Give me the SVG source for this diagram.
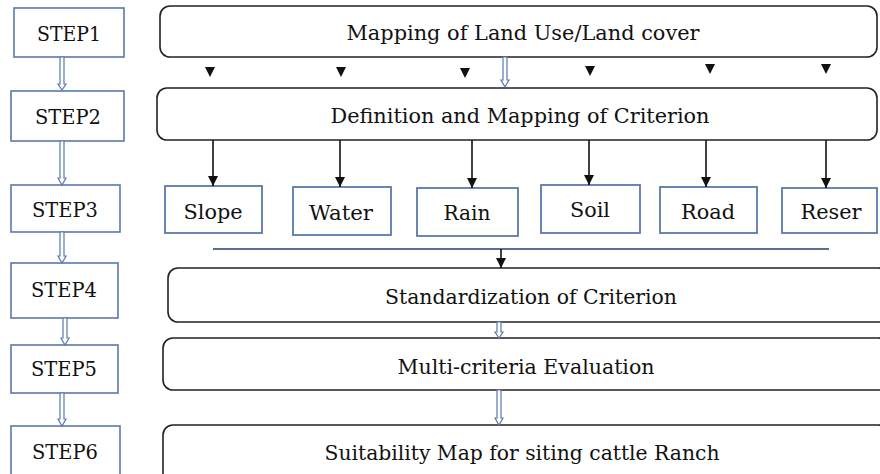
<svg xmlns="http://www.w3.org/2000/svg" width="880" height="474" viewBox="0 0 880 474">
<defs>
<style>
text{font-family:"DejaVu Serif","Liberation Serif",serif;font-size:21px;fill:#111;text-anchor:middle}
.step{fill:#fff;stroke:#5a79ad;stroke-width:1.6}
.main{fill:#fff;stroke:#222;stroke-width:1.6}
.crit{fill:#fff;stroke:#5a79ad;stroke-width:1.8}
.hol{fill:#fff;stroke:#5a79ad;stroke-width:1.2}
.con{stroke:#111;stroke-width:1.6;fill:none}
.tri{fill:#111}
.bar{stroke:#5a6f92;stroke-width:2}
</style>
<marker id="ah" markerWidth="10" markerHeight="10" refX="10" refY="5" orient="auto" markerUnits="userSpaceOnUse" viewBox="0 0 10 10">
<path d="M0,0 L10,5 L0,10 Z" fill="#111"/>
</marker>
</defs>
<g id="step1"><rect class="step" x="14" y="8" width="110" height="49"/><text x="69" y="41" textLength="64" lengthAdjust="spacingAndGlyphs">STEP1</text></g>
<g id="step2"><rect class="step" x="11" y="91" width="113" height="50"/><text x="68" y="124" textLength="66" lengthAdjust="spacingAndGlyphs">STEP2</text></g>
<g id="step3"><rect class="step" x="11" y="185" width="109" height="47"/><text x="65" y="217" textLength="66" lengthAdjust="spacingAndGlyphs">STEP3</text></g>
<g id="step4"><rect class="step" x="11" y="263" width="107" height="55"/><text x="64" y="297" textLength="66" lengthAdjust="spacingAndGlyphs">STEP4</text></g>
<g id="step5"><rect class="step" x="11" y="345" width="107" height="48"/><text x="64" y="376" textLength="66" lengthAdjust="spacingAndGlyphs">STEP5</text></g>
<g id="step6"><rect class="step" x="11" y="426" width="109" height="50"/><text x="65" y="459" textLength="66" lengthAdjust="spacingAndGlyphs">STEP6</text></g>

<g id="box1"><rect class="main" x="160" y="6" width="717" height="51" rx="10"/><text x="523" y="40" textLength="353" lengthAdjust="spacingAndGlyphs">Mapping of Land Use/Land cover</text></g>
<g id="box2"><rect class="main" x="157" y="88" width="720" height="52" rx="10"/><text x="520" y="123" textLength="379" lengthAdjust="spacingAndGlyphs">Definition and Mapping of Criterion</text></g>

<g id="slope"><rect class="crit" x="165" y="186" width="97" height="47"/><text x="213" y="219" textLength="59" lengthAdjust="spacingAndGlyphs">Slope</text></g>
<g id="water"><rect class="crit" x="293" y="187" width="98" height="48"/><text x="341" y="220" textLength="64" lengthAdjust="spacingAndGlyphs">Water</text></g>
<g id="rain"><rect class="crit" x="417" y="188" width="101" height="48"/><text x="467" y="220" textLength="47" lengthAdjust="spacingAndGlyphs">Rain</text></g>
<g id="soil"><rect class="crit" x="541" y="185" width="99" height="48"/><text x="590" y="217" textLength="40" lengthAdjust="spacingAndGlyphs">Soil</text></g>
<g id="road"><rect class="crit" x="660" y="187" width="97" height="46"/><text x="708" y="219" textLength="54" lengthAdjust="spacingAndGlyphs">Road</text></g>
<g id="reser"><rect class="crit" x="782" y="188" width="95" height="45"/><text x="831" y="219" textLength="61" lengthAdjust="spacingAndGlyphs">Reser</text></g>

<g id="box4"><rect class="main" x="168" y="268" width="720" height="54" rx="10"/><text x="531" y="304" textLength="292" lengthAdjust="spacingAndGlyphs">Standardization of Criterion</text></g>
<g id="box5"><rect class="main" x="163" y="338" width="725" height="52" rx="10"/><text x="526" y="374" textLength="257" lengthAdjust="spacingAndGlyphs">Multi-criteria Evaluation</text></g>
<g id="box6"><rect class="main" x="163" y="425" width="725" height="60" rx="10"/><text x="522" y="460" textLength="395" lengthAdjust="spacingAndGlyphs">Suitability Map for siting cattle Ranch</text></g>

<g id="connectors">
<path class="hol" d="M60,57 V84 H58 L62,90 L66,84 H64 V57 Z"/>
<path class="hol" d="M60,141 V178 H58 L62,185 L66,178 H64 V141 Z"/>
<path class="hol" d="M60,232 V256 H58 L62,263 L66,256 H64 V232 Z"/>
<path class="hol" d="M63,318 V338 H61 L65,345 L69,338 H67 V318 Z"/>
<path class="hol" d="M60,393 V419 H58 L62,426 L66,419 H64 V393 Z"/>
<path class="hol" d="M503,57 V80 H501 L505,87 L509,80 H507 V57 Z"/>
<path class="hol" d="M497,322 V332 H495 L499,338 L503,332 H501 V322 Z"/>
<path class="hol" d="M497,390 V418 H495 L499,425 L503,418 H501 V390 Z"/>
<path class="tri" d="M205,67 H215 L210,77 Z"/>
<path class="tri" d="M336,67 H346 L341,77 Z"/>
<path class="tri" d="M460,68 H470 L465,78 Z"/>
<path class="tri" d="M585,66 H595 L590,76 Z"/>
<path class="tri" d="M705,64 H715 L710,74 Z"/>
<path class="tri" d="M821,64 H831 L826,74 Z"/>
<line class="con" x1="213" y1="140" x2="213" y2="186" marker-end="url(#ah)"/>
<line class="con" x1="340" y1="140" x2="340" y2="187" marker-end="url(#ah)"/>
<line class="con" x1="472" y1="140" x2="472" y2="188" marker-end="url(#ah)"/>
<line class="con" x1="589" y1="140" x2="589" y2="185" marker-end="url(#ah)"/>
<line class="con" x1="706" y1="140" x2="706" y2="187" marker-end="url(#ah)"/>
<line class="con" x1="826" y1="140" x2="826" y2="188" marker-end="url(#ah)"/>
<line class="bar" x1="213" y1="249" x2="829" y2="249"/>
<line class="con" x1="501" y1="249" x2="501" y2="268" marker-end="url(#ah)"/>
</g>
</svg>
